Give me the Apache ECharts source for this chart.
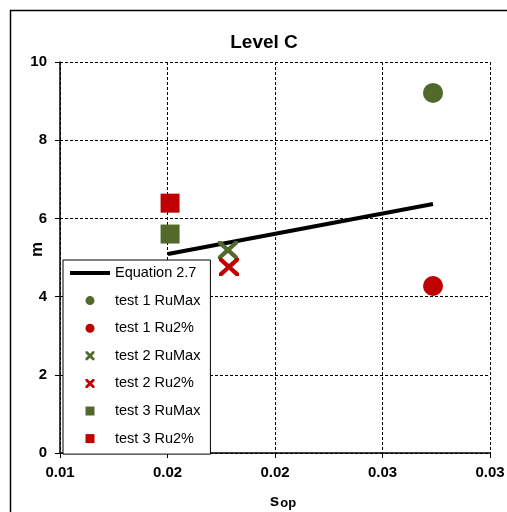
<!DOCTYPE html>
<html>
<head>
<meta charset="utf-8">
<script src="https://cdn.jsdelivr.net/npm/echarts@6/dist/echarts.min.js"></script>
<style>html,body{margin:0;padding:0;background:#fff;}#c{width:507px;height:512px;}</style>
</head>
<body>
<div id="c"></div>
<script>
// ---- data ----
const xTickLabels = ['0.01', '0.02', '0.02', '0.03', '0.03'];
const yTickLabels = ['0', '2', '4', '6', '8', '10'];
const equationLine = [[0.01502, 5.09], [0.02735, 6.37]];
const test1RuMax = [[0.02735, 9.21]];
const test1Ru2 = [[0.02735, 4.27]];
const test2RuMax = [[0.01781, 5.19]];
const test2Ru2 = [[0.01786, 4.76]];
const test3RuMax = [[0.01512, 5.60]];
const test3Ru2 = [[0.01512, 6.39]];
const seriesNames = ['Equation 2.7', 'test 1 RuMax', 'test 1 Ru2%', 'test 2 RuMax', 'test 2 Ru2%', 'test 3 RuMax', 'test 3 Ru2%'];

const GREEN = '#53692C';
const RED = '#C00000';
const XSYM = 'path://M0,0 L1.6,0 L5,3.4 L8.4,0 L10,0 L10,1.6 L6.6,5 L10,8.4 L10,10 L8.4,10 L5,6.6 L1.6,10 L0,10 L0,8.4 L3.4,5 L0,1.6 Z';
const XICON = 'path://M0,0 L2.2,0 L5,2.8 L7.8,0 L10,0 L10,2.2 L7.2,5 L10,7.8 L10,10 L7.8,10 L5,7.2 L2.2,10 L0,10 L0,7.8 L2.8,5 L0,2.2 Z';
const SQSYM = 'path://M0,0 L10,0 L10,10 L0,10 Z';
const LINEICON = 'path://M0,0 L40,0 L40,4 L0,4 Z';
const FONT = 'Liberation Sans, Arial';

const chart = echarts.init(document.getElementById('c'), null, {renderer: 'canvas'});
const gridDash = {color: '#000', width: 1, type: [3, 2]};
chart.setOption({
  animation: false,
  backgroundColor: '#fff',
  title: {
    text: 'Level C', left: 259, top: 28, textAlign: 'center',
    textStyle: {fontFamily: FONT, fontSize: 19, fontWeight: 'bold', color: '#000'}
  },
  graphic: [{
    type: 'rect', shape: {x: 10.5, y: 10.5, width: 560, height: 560}, silent: true,
    style: {fill: 'none', stroke: '#000', lineWidth: 1.5}, z: 100
  }],
  grid: {left: 60, right: 17, top: 62, bottom: 59, containLabel: false, outerBoundsMode: 'none'},
  xAxis: {
    type: 'value', min: 0.01, max: 0.03, interval: 0.005,
    name: '{s|s}{op|op}', nameLocation: 'middle', nameGap: 40, nameMoveOverlap: false,
    nameTextStyle: {
      padding: [0, 0, 0, 16],
      rich: {
        s: {fontFamily: FONT, fontSize: 17, fontWeight: 'bold', color: '#000', lineHeight: 17, verticalAlign: 'top'},
        op: {fontFamily: FONT, fontSize: 13, fontWeight: 'bold', color: '#000', lineHeight: 13, verticalAlign: 'bottom', padding: [10, 0, 0, 1]}
      }
    },
    axisLine: {show: true, onZero: false, lineStyle: {color: '#000', width: 1.5}},
    axisTick: {show: true, inside: false, length: 5, lineStyle: {color: '#000', width: 1}},
    axisLabel: {
      margin: 12, fontFamily: FONT, fontSize: 15, fontWeight: 'bold', color: '#000',
      formatter: (v, i) => xTickLabels[i]
    },
    splitLine: {show: true, lineStyle: gridDash}
  },
  yAxis: {
    type: 'value', min: 0, max: 10, interval: 2,
    name: 'm', nameLocation: 'middle', nameGap: 14, nameMoveOverlap: false,
    nameTextStyle: {fontFamily: FONT, fontSize: 17, fontWeight: 'bold', color: '#000', padding: [0, 0, 0, 16]},
    axisLine: {show: true, onZero: false, lineStyle: {color: '#000', width: 1.5}},
    axisTick: {show: true, inside: false, length: 5, lineStyle: {color: '#000', width: 1}},
    axisLabel: {
      margin: 13, fontFamily: FONT, fontSize: 15, fontWeight: 'bold', color: '#000',
      formatter: (v, i) => yTickLabels[i]
    },
    splitLine: {show: true, lineStyle: gridDash}
  },
  legend: {
    orient: 'vertical', left: 63, top: 260,
    padding: [5.5, 10, 8, 7], itemGap: 12.6, itemWidth: 40, itemHeight: 9,
    backgroundColor: '#fff', borderColor: '#000', borderWidth: 1, borderRadius: 0,
    textStyle: {fontFamily: FONT, fontSize: 14.5, color: '#000'},
    data: [
      {name: seriesNames[0], icon: LINEICON},
      {name: seriesNames[1], icon: 'circle'},
      {name: seriesNames[2], icon: 'circle'},
      {name: seriesNames[3], icon: XICON},
      {name: seriesNames[4], icon: XICON},
      {name: seriesNames[5], icon: SQSYM},
      {name: seriesNames[6], icon: SQSYM}
    ]
  },
  series: [
    {name: seriesNames[0], type: 'line', data: equationLine, symbol: 'none', showSymbol: false,
     lineStyle: {color: '#000', width: 4}, itemStyle: {color: '#000'}, z: 2},
    {name: seriesNames[1], type: 'scatter', data: test1RuMax, symbol: 'circle', symbolSize: 20, itemStyle: {color: GREEN, opacity: 1}, z: 3},
    {name: seriesNames[2], type: 'scatter', data: test1Ru2, symbol: 'circle', symbolSize: 20, itemStyle: {color: RED, opacity: 1}, z: 3},
    {name: seriesNames[3], type: 'scatter', data: test2RuMax, symbol: XSYM, symbolSize: [20, 18], symbolKeepAspect: false, itemStyle: {color: GREEN, opacity: 1}, z: 3},
    {name: seriesNames[4], type: 'scatter', data: test2Ru2, symbol: XSYM, symbolSize: [20, 18], symbolKeepAspect: false, itemStyle: {color: RED, opacity: 1}, z: 3},
    {name: seriesNames[5], type: 'scatter', data: test3RuMax, symbol: SQSYM, symbolSize: 19, symbolKeepAspect: true, itemStyle: {color: GREEN, opacity: 1}, z: 3},
    {name: seriesNames[6], type: 'scatter', data: test3Ru2, symbol: SQSYM, symbolSize: 19, symbolKeepAspect: true, itemStyle: {color: RED, opacity: 1}, z: 3}
  ]
});
</script>
</body>
</html>
